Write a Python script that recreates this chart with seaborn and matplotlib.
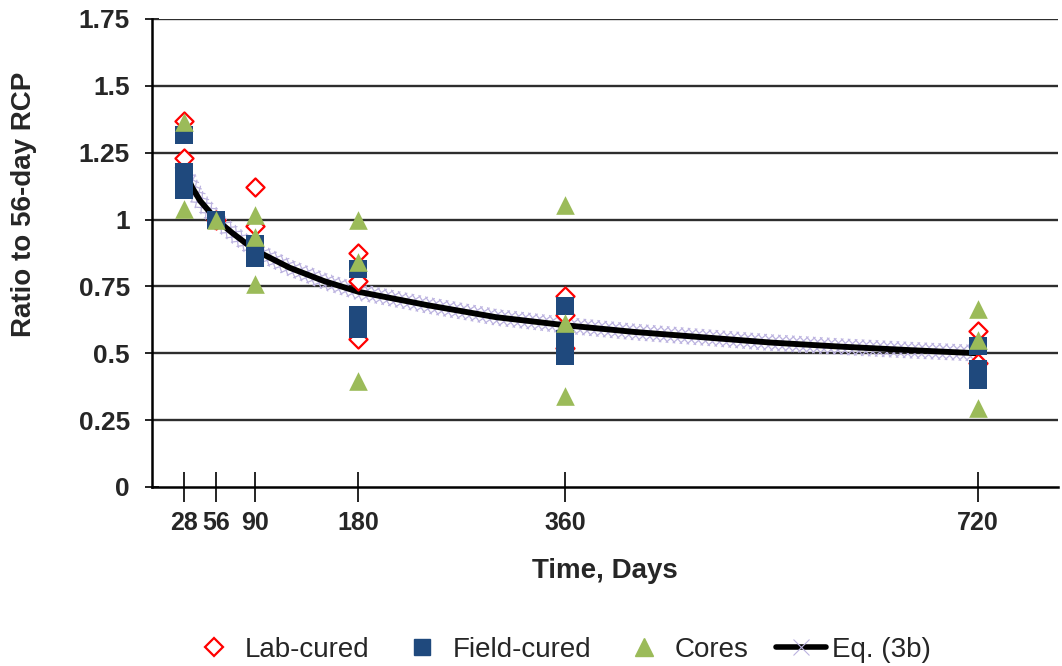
import numpy as np
import pandas as pd
import matplotlib
matplotlib.use("Agg")
import matplotlib.pyplot as plt
import matplotlib.patheffects as pe
from matplotlib.lines import Line2D
import seaborn as sns

# ---- data ----
lab_days = [28, 28, 56, 90, 90, 180, 180, 180, 360, 360, 360, 720, 720]
lab_vals = [1.37, 1.23, 1.0, 1.12, 0.975, 0.875, 0.77, 0.555, 0.715, 0.645, 0.52, 0.585, 0.465]

field_days = [28, 28, 28, 56, 90, 90, 180, 180, 180, 360, 360, 360, 720, 720, 720]
field_vals = [1.315, 1.178, 1.112, 1.0, 0.907, 0.855, 0.815, 0.645, 0.59, 0.675, 0.553, 0.49, 0.527, 0.44, 0.40]

cores_days = [28, 28, 56, 90, 90, 90, 180, 180, 180, 360, 360, 360, 720, 720, 720]
cores_vals = [1.365, 1.04, 1.0, 1.016, 0.935, 0.76, 0.997, 0.841, 0.398, 1.053, 0.613, 0.342, 0.667, 0.548, 0.296]

eq_days = [28, 35, 42, 56, 70, 90, 120, 150, 180, 240, 300, 360, 420, 480, 540, 600, 660, 720]
eq_vals = [1.19, 1.12, 1.07, 1.00, 0.95, 0.885, 0.82, 0.77, 0.73, 0.68, 0.635, 0.605, 0.58, 0.56, 0.54, 0.525, 0.512, 0.50]

x_ticks = [28, 56, 90, 180, 360, 720]
y_ticks = [0, 0.25, 0.5, 0.75, 1, 1.25, 1.5, 1.75]
y_tick_labels = ["0", "0.25", "0.5", "0.75", "1", "1.25", "1.5", "1.75"]

RED = "#ff0000"
NAVY = "#1f497d"
GREEN = "#9bbb59"
LAV = "#bcb3e0"

sns.set_style("white")
plt.rcParams["font.family"] = ["Liberation Sans", "DejaVu Sans"]

fig = plt.figure(figsize=(10.62, 6.66), dpi=100)
ax = fig.add_axes([152 / 1062, (666 - 487) / 666, (1058 - 152) / 1062, (487 - 19) / 666])

# gridlines
for v in y_ticks[1:]:
    ax.axhline(v, color="#2e2e2e", lw=1.7, zorder=1)

eq_df = pd.DataFrame({"day": eq_days, "ratio": eq_vals})
band_effects = []
for ang in (45, -135, 135, -45):
    band_effects.append(pe.withTickedStroke(spacing=5, angle=ang, length=1.6,
                                            linewidth=0.9, foreground=LAV))
ax.plot(eq_days, eq_vals, color="none", lw=0.1, path_effects=band_effects, zorder=2)
sns.lineplot(data=eq_df, x="day", y="ratio", ax=ax, color="black", lw=4.2,
             estimator=None, sort=False, zorder=3, legend=False)

lab_df = pd.DataFrame({"day": lab_days, "ratio": lab_vals})
field_df = pd.DataFrame({"day": field_days, "ratio": field_vals})
cores_df = pd.DataFrame({"day": cores_days, "ratio": cores_vals})

sns.scatterplot(data=lab_df, x="day", y="ratio", ax=ax, marker="D", s=85,
                facecolor="white", edgecolor=RED, linewidth=1.6, zorder=4, legend=False)
sns.scatterplot(data=field_df, x="day", y="ratio", ax=ax, marker="s", s=150,
                color=NAVY, edgecolor=NAVY, linewidth=0, zorder=5, legend=False)
sns.scatterplot(data=cores_df, x="day", y="ratio", ax=ax, marker="^", s=180,
                color=GREEN, edgecolor=GREEN, linewidth=0, zorder=6, legend=False)

ax.set_xlim(0, 790)
ax.set_ylim(0, 1.75)
ax.set_xticks(x_ticks)
ax.set_xticklabels([str(t) for t in x_ticks])
ax.set_yticks(y_ticks)
ax.set_yticklabels(y_tick_labels)

for s in ("top", "right"):
    ax.spines[s].set_visible(False)
for s in ("left", "bottom"):
    ax.spines[s].set_color("black")
    ax.spines[s].set_linewidth(1.8)

ax.tick_params(axis="x", bottom=True, direction="inout", length=21, width=1.2,
               color="black", labelsize=18, pad=7)
ax.tick_params(axis="y", left=True, direction="inout", length=10, width=1.2,
               color="black", labelsize=19, pad=11)
for lbl in ax.get_xticklabels() + ax.get_yticklabels():
    lbl.set_fontweight("bold")

ax.set_xlabel("Time, Days", fontsize=20, fontweight="bold", labelpad=16)
ax.set_ylabel("Ratio to 56-day RCP", fontsize=20, fontweight="bold")
ax.yaxis.set_label_coords(-0.127, 0.603)

handles = [
    Line2D([], [], ls="none", marker="D", ms=9, mfc="white", mec=RED, mew=1.6),
    Line2D([], [], ls="none", marker="s", ms=12, color=NAVY),
    Line2D([], [], ls="none", marker="^", ms=13, color=GREEN),
    Line2D([], [], color="black", lw=4, marker="x", ms=12, mec=LAV, mew=0.8),
]
labels = ["Lab-cured", "Field-cured", "Cores", "Eq. (3b)"]
fig.legend(handles, labels, loc="center", bbox_to_anchor=(0.527, 0.024), ncol=4,
           frameon=False, fontsize=20, handlelength=1.8, handletextpad=0.2,
           columnspacing=1.0)

fig.savefig("out.png", dpi=100)
